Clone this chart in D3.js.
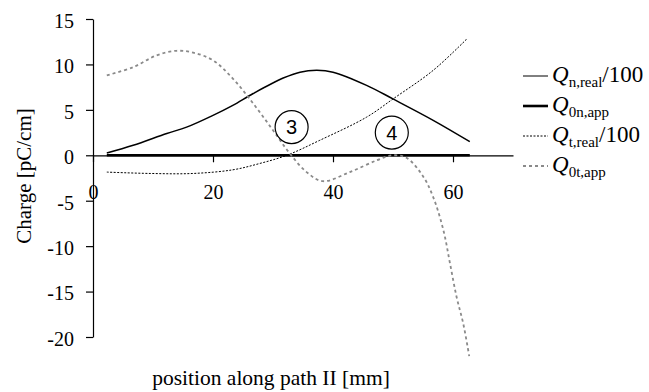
<!DOCTYPE html>
<html>
<head>
<meta charset="utf-8">
<script src="https://cdn.jsdelivr.net/npm/d3@7"></script>
<style>
  html, body { margin: 0; padding: 0; background: #fff; }
  svg { display: block; }
  svg text { font-family: "Liberation Serif", "Times New Roman", Times, serif; fill: #000; }
</style>
</head>
<body>
<svg id="chart" width="649" height="392"></svg>
<script>
// Position along path II [mm]
const posNReal = [2.3, 6.7, 12.3, 15.6, 20, 23.3, 26.7, 31.7, 34.5, 37.3, 40, 45.6, 50, 56.7, 62.8];
const qNReal   = [0.25, 1.1, 2.4, 3.1, 4.4, 5.5, 6.8, 8.5, 9.15, 9.35, 9.15, 7.7, 6.2, 3.85, 1.5];

const pos0NApp = [2.3, 10, 20, 30, 40, 50, 62.8];
const q0NApp   = [0, 0, 0, 0, 0, 0, 0];

const posTReal = [2.3, 9.5, 16.7, 23.3, 27.8, 32.3, 37.8, 45.6, 50, 56.7, 62.3];
const qTReal   = [-1.85, -2.0, -2.0, -1.6, -0.9, 0, 1.65, 4.2, 6.2, 9.35, 12.8];

const pos0TApp = [2.3, 6.7, 10.6, 13.9, 16.7, 20, 23.3, 26.7, 30, 32.8, 35.6, 38.3, 42.8, 47.3, 50, 52.3, 55, 56.7, 58.4, 59.5, 60.6, 61.7, 62.7];
const q0TApp   = [8.8, 9.7, 11.0, 11.5, 11.3, 10.45, 8.45, 5.7, 2.75, 0.2, -1.85, -2.85, -1.85, -0.55, 0, -0.3, -2.3, -4.6, -8.25, -11.9, -15.6, -18.5, -22.1];

const xTicks = [0, 20, 40, 60];
const yTicks = [-20, -15, -10, -5, 0, 5, 10, 15];

const SERIF = "'Liberation Serif', 'Times New Roman', Times, serif";
const svg = d3.select("#chart");

const x = d3.scaleLinear().domain([0, 70]).range([93, 513]);
const y = d3.scaleLinear().domain([-20, 15]).range([337, 19]);

// y axis
const yAxis = svg.append("g")
  .attr("transform", `translate(${x(0)},0)`)
  .call(d3.axisLeft(y).tickValues(yTicks).tickSize(7).tickSizeOuter(0).tickPadding(12)
    .tickFormat(d => String(d)));
yAxis.attr("font-family", SERIF).attr("font-size", 20);
yAxis.selectAll("text").attr("dy", "0.42em").style("font-family", SERIF).style("font-size", "20px");
yAxis.selectAll("line, path").attr("stroke", "#000").attr("stroke-width", 1.2);

// x axis on the zero line
const xAxis = svg.append("g")
  .attr("transform", `translate(0,${y(0)})`)
  .call(d3.axisBottom(x).tickValues(xTicks).tickSize(7).tickSizeOuter(0).tickPadding(23)
    .tickFormat(d => String(d)));
xAxis.attr("font-family", SERIF).attr("font-size", 20);
xAxis.selectAll("text").style("font-family", SERIF).style("font-size", "20px");
xAxis.selectAll("line, path").attr("stroke", "#000").attr("stroke-width", 1.2);

const line = (xs, ys) => d3.line()
  .x((d, i) => x(xs[i]))
  .y((d, i) => y(ys[i]))
  .curve(d3.curveCatmullRom.alpha(0.5))(ys);

// Q0n,app (thick, along zero)
svg.append("path").attr("d", line(pos0NApp, q0NApp))
  .attr("fill", "none").attr("stroke", "#000").attr("stroke-width", 2.6);

// Qn,real/100
svg.append("path").attr("d", line(posNReal, qNReal))
  .attr("fill", "none").attr("stroke", "#000").attr("stroke-width", 1.5);

// Qt,real/100
svg.append("path").attr("d", line(posTReal, qTReal))
  .attr("fill", "none").attr("stroke", "#000").attr("stroke-width", 1)
  .attr("stroke-dasharray", "2,1.5");

// Q0t,app
svg.append("path").attr("d", line(pos0TApp, q0TApp))
  .attr("fill", "none").attr("stroke", "#8a8a8a").attr("stroke-width", 1.8)
  .attr("stroke-dasharray", "3,3");

// circled region markers
const markers = [{label: "3", px: 33.1, v: 3.1}, {label: "4", px: 49.8, v: 2.5}];
markers.forEach(m => {
  const g = svg.append("g").attr("transform", `translate(${x(m.px)},${y(m.v)})`);
  g.append("circle").attr("r", 16.5).attr("fill", "none").attr("stroke", "#000").attr("stroke-width", 1.2);
  g.append("text").attr("text-anchor", "middle").attr("dy", "0.36em")
    .attr("font-size", 20).style("font-family", "'Liberation Sans', Arial, sans-serif")
    .text(m.label);
});

// axis titles
svg.append("text")
  .attr("transform", "translate(31,176) rotate(-90)")
  .attr("text-anchor", "middle").style("font-size", "21px").style("font-family", SERIF)
  .text("Charge [pC/cm]");
svg.append("text")
  .attr("x", 271).attr("y", 385)
  .attr("text-anchor", "middle").style("font-size", "21.5px").style("font-family", SERIF)
  .text("position along path II [mm]");

// legend
const legend = [
  {sub: "n,real", tail: "/100", w: 1, dash: null, color: "#000"},
  {sub: "0n,app", tail: "", w: 2.6, dash: null, color: "#000"},
  {sub: "t,real", tail: "/100", w: 1, dash: "2,1.5", color: "#000"},
  {sub: "0t,app", tail: "", w: 1.8, dash: "3,3", color: "#8a8a8a"}
];
legend.forEach((d, i) => {
  const ly = 76 + i * 30;
  svg.append("line").attr("x1", 523).attr("x2", 548).attr("y1", ly).attr("y2", ly)
    .attr("stroke", d.color).attr("stroke-width", d.w)
    .attr("stroke-dasharray", d.dash);
  const t = svg.append("text").attr("x", 552).attr("y", ly + 6)
    .style("font-size", "23px").style("font-family", SERIF);
  t.append("tspan").attr("font-style", "italic").text("Q");
  t.append("tspan").style("font-size", "15px").attr("dy", 5).text(d.sub);
  if (d.tail) t.append("tspan").attr("dy", -5).text(d.tail);
});
</script>
</body>
</html>
